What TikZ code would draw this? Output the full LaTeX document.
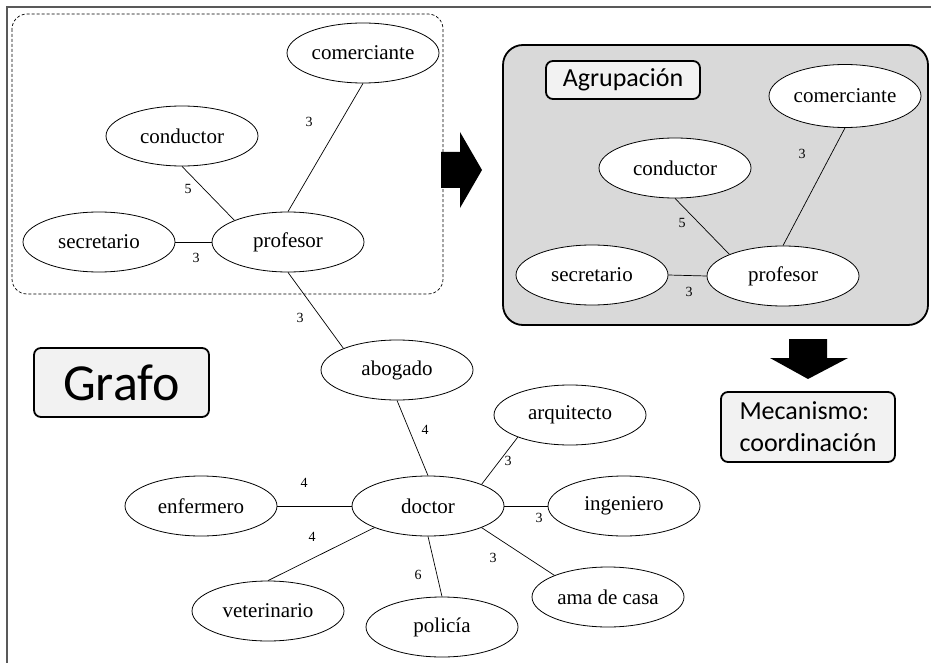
\documentclass[tikz,border=0pt]{standalone}
\usepackage{fontspec}
\setmainfont{Liberation Serif}
\newfontfamily\calib{Carlito}
\usetikzlibrary{shapes.geometric}
\definecolor{grpfill}{HTML}{D9D9D9}
\definecolor{lblfill}{HTML}{F2F2F2}
\definecolor{framegray}{HTML}{595959}
\begin{document}
\begin{tikzpicture}[x=1pt,y=-1pt,
  ent/.style={ellipse, draw, line width=0.8pt, fill=white, minimum width=152pt, minimum height=60pt, inner sep=0pt, font=\fontsize{21}{24}\selectfont},
  wt/.style={font=\fontsize{14}{16}\selectfont, inner sep=0pt},
  lnk/.style={line width=0.7pt},
  lblbox/.style={draw, line width=1.8pt, rounded corners=7pt, fill=lblfill, inner sep=0pt, font=\calib},
  bigarrow/.style={fill=black, draw=none}]
\useasboundingbox (0,0) rectangle (931,663);
% outer frame (top and left)
\draw[framegray, line width=1.3pt] (7,663) -- (7,7) -- (931,7);
% dashed box
\draw[dashed, dash pattern=on 3pt off 2pt, line width=0.7pt, rounded corners=15pt] (12,14) rectangle (443,294);
% right grouped box
\draw[line width=1.8pt, rounded corners=20pt, fill=grpfill] (503,45) rectangle (928,325);
% left graph nodes
\node[ent] (com) at (363,53) {comerciante};
\node[ent] (cond) at (182,136) {conductor};
\node[ent] (sec) at (99,242) {secretario};
\node[ent] (prof) at (288,242) {profesor};
\node[ent] (abo) at (397,370) {abogado};
\node[ent] (enf) at (201,506) {enfermero};
\node[ent] (doc) at (428,506) {doctor};
\node[ent] (vet) at (268,611) {veterinario};
\node[ent] (pol) at (442,627) {policía};
\node[ent] (arq) at (570,415) {arquitecto};
\node[ent] (ing) at (624,506) {ingeniero};
\node[ent] (ama) at (608,597) {ama de casa};
% right graph nodes
\node[ent, minimum height=63pt] (rcom) at (845,96) {comerciante};
\node[ent] (rcond) at (675,168) {conductor};
\node[ent] (rsec) at (592,275) {secretario};
\node[ent] (rprof) at (783,276) {profesor};
% left edges
\draw[lnk] (com.south) -- (prof.north);
\draw[lnk] (cond.south) -- (prof.158);
\draw[lnk] (sec.east) -- (prof.west);
\draw[lnk] (prof.south) -- (abo.158);
\draw[lnk] (abo.south) -- (doc.north);
\draw[lnk] (enf.east) -- (doc.west);
\draw[lnk] (vet.north) -- (doc.202);
\draw[lnk] (pol.north) -- (doc.south);
\draw[lnk] (arq.203) -- (doc.22);
\draw[lnk] (doc.east) -- (ing.west);
\draw[lnk] (doc.338) -- (ama.158);
% right edges
\draw[lnk] (rcom.south) -- (rprof.north);
\draw[lnk] (rcond.south) -- (rprof.158);
\draw[lnk] (rsec.east) -- (rprof.west);
% weights
\node[wt] (w1) at (309,122) {3};
\node[wt] (w2) at (188,189) {5};
\node[wt] (w3) at (196,258) {3};
\node[wt] (w4) at (300,318) {3};
\node[wt] (w5) at (425,430) {4};
\node[wt] (w6) at (304,483) {4};
\node[wt] (w7) at (312,537) {4};
\node[wt] (w8) at (418,575) {6};
\node[wt] (w9) at (508,461) {3};
\node[wt] (w10) at (539,518) {3};
\node[wt] (w11) at (493,558) {3};
\node[wt] (w12) at (802,154) {3};
\node[wt] (w13) at (682,223) {5};
\node[wt] (w14) at (689,292) {3};
% labels
\node[lblbox, minimum width=175pt, minimum height=69pt, font=\calib\fontsize{52}{60}\selectfont] (grafo) at (121.5,382.5) {Grafo};
\node[lblbox, minimum width=154pt, minimum height=38pt, font=\calib\fontsize{26}{30}\selectfont] (agr) at (623,80) {Agrupación};
\node[lblbox, minimum width=174pt, minimum height=70pt, align=left, font=\calib\fontsize{26}{32}\selectfont] (mec) at (808,427) {Mecanismo:\\coordinación};
% big arrows
\fill[bigarrow] (441,152) -- (460,152) -- (460,132) -- (482,170) -- (460,208) -- (460,188) -- (441,188) -- cycle;
\fill[bigarrow] (789,339) -- (827,339) -- (827,358) -- (848,358) -- (808,379) -- (770,358) -- (789,358) -- cycle;
\end{tikzpicture}
\end{document}
